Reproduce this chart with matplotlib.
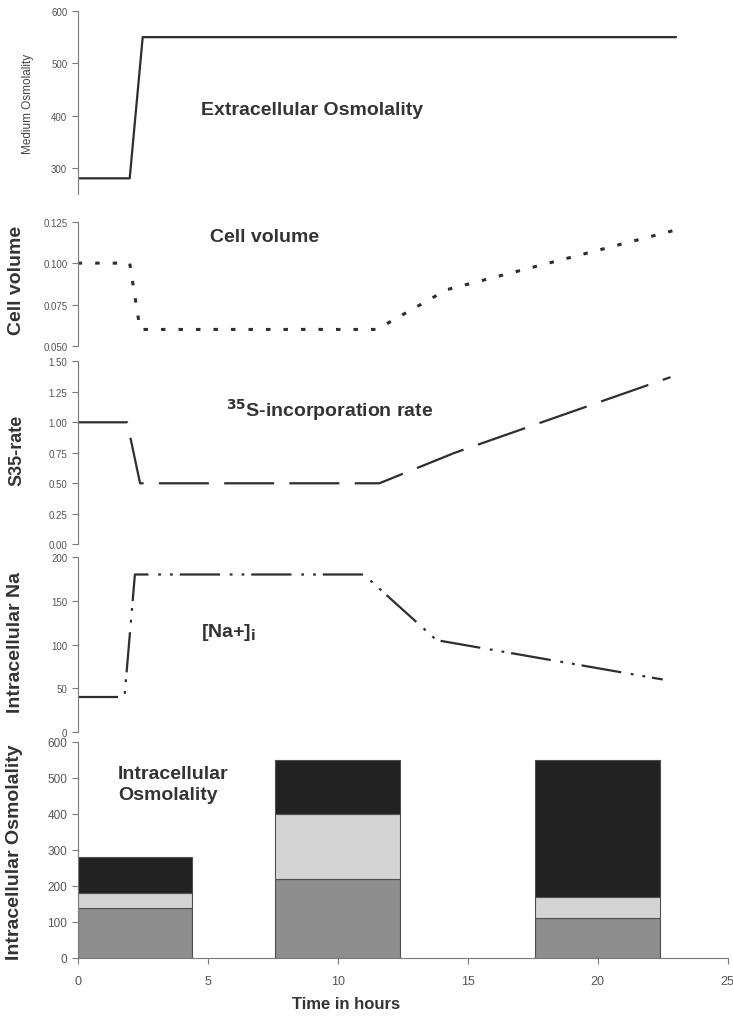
import matplotlib
matplotlib.use("Agg")
import matplotlib.pyplot as plt

plt.rcParams['font.family'] = ['Liberation Sans', 'DejaVu Sans']
plt.rcParams['lines.scale_dashes'] = False

# ---- data ----
medium_t = [0, 2.0, 2.5, 23.0]
medium_osm = [280, 280, 550, 550]

vol_t = [0, 2.0, 2.4, 11.5, 14.2, 23.0]
vol = [0.100, 0.100, 0.060, 0.060, 0.084, 0.120]

s35_t = [0, 1.9, 2.4, 11.6, 14.5, 22.8]
s35 = [1.00, 1.00, 0.50, 0.50, 0.75, 1.37]

na_t = [0, 1.8, 2.2, 11.0, 13.8, 22.5]
na = [40, 40, 180, 180, 105, 60]

bar_t = [2, 10, 20]
bar_bottom = [140, 220, 110]
bar_middle = [40, 180, 60]
bar_top = [100, 150, 380]

W, H = 733, 1020
fig = plt.figure(figsize=(W / 100, H / 100), dpi=100)

def rect(top_px, bot_px, left_px=77.7, right_px=727.7):
    return [left_px / W, 1 - bot_px / H, (right_px - left_px) / W, (bot_px - top_px) / H]

axes_px = [(12, 195), (222.7, 347), (362.3, 545.3), (558, 733), (743, 959)]
axs = [fig.add_axes(rect(t, b)) for t, b in axes_px]

spine_c = '#7a7a7a'
tick_c = '#555555'
line_c = '#2e2e2e'

for i, ax in enumerate(axs):
    ax.set_xlim(0, 25)
    for s in ['top', 'right']:
        ax.spines[s].set_visible(False)
    ax.spines['left'].set_color(spine_c)
    ax.spines['bottom'].set_color(spine_c)
    ax.tick_params(axis='y', colors=spine_c, labelcolor=tick_c, labelsize=7, length=4, width=0.8)
    ax.set_facecolor('none')
    if i < 4:
        ax.spines['bottom'].set_visible(False)
        ax.set_xticks([])

# Panel 1
ax = axs[0]
ax.plot(medium_t, medium_osm, color=line_c, lw=1.6)
ax.set_ylim(250, 600)
ax.set_yticks([300, 400, 500, 600])
ax.text(9.0, 411, 'Extracellular Osmolality', ha='center', va='center',
        fontsize=14, fontweight='bold', color='#333333')

# Panel 2
ax = axs[1]
ax.plot(vol_t, vol, color=line_c, lw=2.2, dashes=(3.2, 9.4))
ax.set_ylim(0.050, 0.125)
ax.set_yticks([0.050, 0.075, 0.100, 0.125])
ax.set_yticklabels(['0.050', '0.075', '0.100', '0.125'])
ax.text(7.2, 0.1158, 'Cell volume', ha='center', va='center',
        fontsize=14, fontweight='bold', color='#333333')

# Panel 3
ax = axs[2]
ax.plot(s35_t, s35, color=line_c, lw=1.6, dashes=(36, 11))
ax.set_ylim(0, 1.5)
ax.set_yticks([0, 0.25, 0.5, 0.75, 1.0, 1.25, 1.5])
ax.set_yticklabels(['0.00', '0.25', '0.50', '0.75', '1.00', '1.25', '1.50'])
ax.text(9.7, 1.11, r'$\mathbf{^{35}}$S-incorporation rate', ha='center', va='center',
        fontsize=14, fontweight='bold', color='#333333')

# Panel 4
ax = axs[3]
ax.plot(na_t, na, color=line_c, lw=1.6, dashes=(29, 7, 2, 6.5, 2, 5))
ax.set_ylim(0, 200)
ax.set_yticks([0, 50, 100, 150, 200])
ax.text(5.8, 115, r'[Na+]$_\mathbf{i}$', ha='center', va='center',
        fontsize=14, fontweight='bold', color='#333333')

# Panel 5
ax = axs[4]
bw = 4.8
ax.bar(bar_t, bar_bottom, width=bw, color='#8e8e8e', edgecolor='#505050', lw=0.8)
ax.bar(bar_t, bar_middle, width=bw, bottom=bar_bottom, color='#d4d4d4', edgecolor='#505050', lw=0.8)
bot2 = [a + b for a, b in zip(bar_bottom, bar_middle)]
ax.bar(bar_t, bar_top, width=bw, bottom=bot2, color='#222222', edgecolor='#505050', lw=0.8)
ax.set_ylim(0, 600)
ax.set_yticks(range(0, 700, 100))
ax.set_xticks([0, 5, 10, 15, 20, 25])
ax.tick_params(axis='y', labelsize=8.5)
ax.tick_params(axis='x', colors=spine_c, labelcolor=tick_c, labelsize=9, length=4, width=0.8, pad=8)
ax.text(1.55, 483, 'Intracellular\nOsmolality', ha='left', va='center',
        fontsize=14, fontweight='bold', color='#333333', linespacing=1.25)

# y labels
lab_c = '#333333'
fig.text(28 / W, 1 - 104 / H, 'Medium Osmolality', rotation=90, ha='center', va='center',
         fontsize=8.5, color='#444444')
fig.text(17 / W, 1 - 280 / H, 'Cell volume', rotation=90, ha='center', va='center',
         fontsize=14, fontweight='bold', color=lab_c)
fig.text(17 / W, 1 - 450 / H, 'S35-rate', rotation=90, ha='center', va='center',
         fontsize=13, fontweight='bold', color=lab_c)
fig.text(16 / W, 1 - 643 / H, 'Intracellular Na', rotation=90, ha='center', va='center',
         fontsize=14, fontweight='bold', color=lab_c)
fig.text(15 / W, 1 - 852 / H, 'Intracellular Osmolality', rotation=90, ha='center', va='center',
         fontsize=14, fontweight='bold', color=lab_c)
fig.text(346 / W, 1 - 1005 / H, 'Time in hours', ha='center', va='center',
         fontsize=12, fontweight='bold', color=lab_c)

fig.savefig('out.png', dpi=100)
